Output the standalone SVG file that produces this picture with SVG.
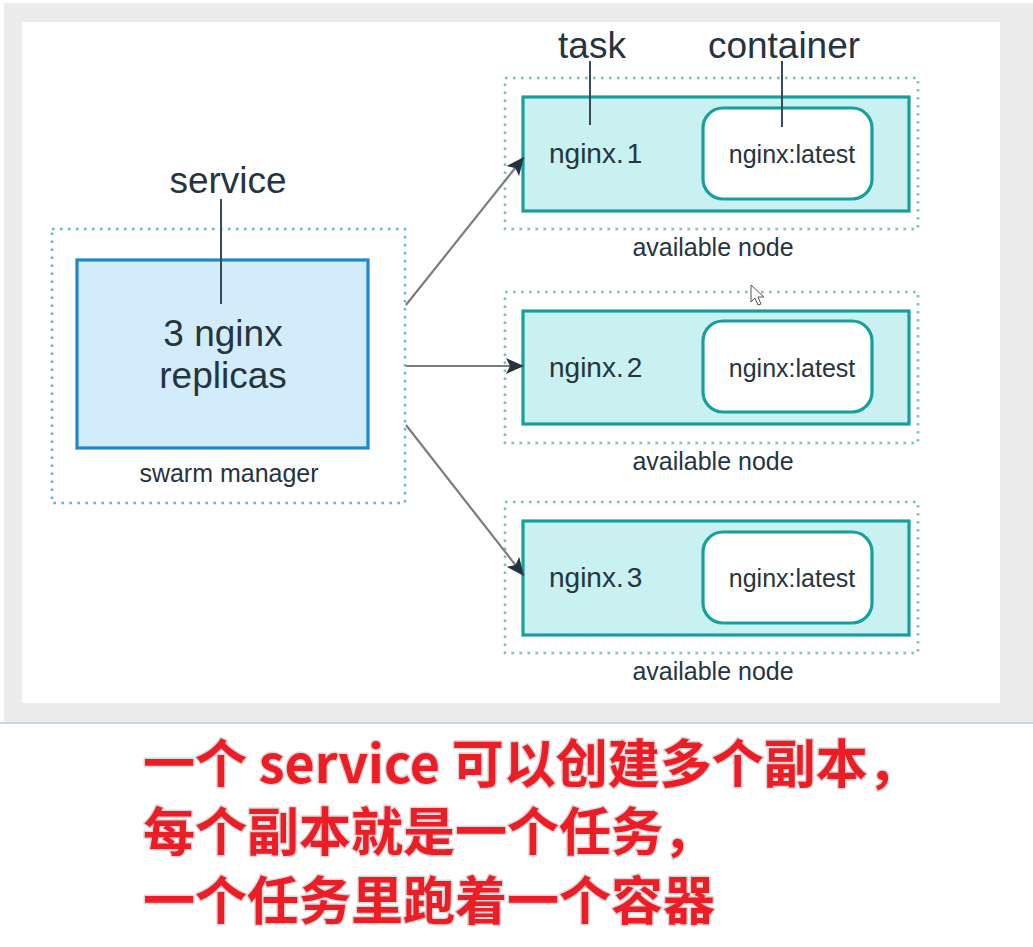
<svg xmlns="http://www.w3.org/2000/svg" width="1033" height="947" viewBox="0 0 1033 947">
<defs>
<style>
.lbl{font-family:"Liberation Sans",Arial,sans-serif;fill:#26343f}
.big{font-size:37px}
.mid{font-size:28px}
.sm{font-size:25px}
.dotb{fill:none;stroke:#6fb0d6;stroke-width:2.6;stroke-dasharray:2.6 5.4}
.dott{fill:none;stroke:#6fc4bb;stroke-width:2.6;stroke-dasharray:2.6 5.4}
.task{fill:#c9f1f2;stroke:#17a09b;stroke-width:3.2}
.cont{fill:#ffffff;stroke:#17a09b;stroke-width:3.2}
.pin{stroke:#3c4a55;stroke-width:2;fill:none}
.conn{stroke:#7c7c7c;stroke-width:2.2;fill:none;marker-end:url(#ah)}
.cap{font-family:"Noto Sans CJK SC","Noto Sans",sans-serif;font-weight:bold;font-size:52px;fill:#ee1c25;stroke:#d8d8d8;stroke-width:3;paint-order:stroke;stroke-linejoin:round}
</style>
<marker id="ah" markerUnits="userSpaceOnUse" markerWidth="20" markerHeight="18" refX="18" refY="8" orient="auto">
<path d="M0,0 L18,8 L0,16 L4,8 z" fill="#24343f"/>
</marker>
</defs>
<rect x="0" y="0" width="1033" height="947" fill="#ffffff"/>
<rect x="4" y="3" width="1029" height="719" fill="#ececec"/>
<rect x="22" y="22" width="978" height="681" fill="#ffffff"/>
<line x1="0" y1="723" x2="1033" y2="723" stroke="#a9c9ea" stroke-width="1.5"/>

<g id="swarm-manager">
<rect class="dotb" x="52" y="229" width="353" height="274"/>
<rect x="77" y="260" width="291" height="188" fill="#d3ecfb" stroke="#1e88c8" stroke-width="3.2"/>
<text class="lbl big" x="223" y="346" text-anchor="middle">3 nginx</text>
<text class="lbl big" x="223" y="388" text-anchor="middle">replicas</text>
<text class="lbl sm" x="229" y="482" text-anchor="middle">swarm manager</text>
</g>

<g id="service-label">
<text class="lbl big" x="228" y="193" text-anchor="middle">service</text>
<line class="pin" x1="221" y1="199" x2="221" y2="304"/>
</g>

<g id="node1">
<rect class="dott" x="505" y="78" width="413" height="151"/>
<rect class="task" x="523" y="97" width="386" height="114"/>
<rect class="cont" x="703" y="108" width="169" height="91" rx="20"/>
<text class="lbl mid" x="549" y="163">nginx.<tspan dx="3">1</tspan></text>
<text class="lbl sm" x="792" y="163" text-anchor="middle">nginx:latest</text>
<text class="lbl sm" x="713" y="256" text-anchor="middle">available node</text>
</g>

<g id="task-label">
<text class="lbl big" x="592" y="58" text-anchor="middle">task</text>
<line class="pin" x1="590" y1="61" x2="590" y2="125"/>
</g>
<g id="container-label">
<text class="lbl big" x="784" y="58" text-anchor="middle">container</text>
<line class="pin" x1="782" y1="61" x2="782" y2="127"/>
</g>

<g id="node2">
<rect class="dott" x="505" y="292" width="413" height="151"/>
<rect class="task" x="523" y="311" width="386" height="113"/>
<rect class="cont" x="703" y="321" width="169" height="91" rx="20"/>
<text class="lbl mid" x="549" y="377">nginx.<tspan dx="3">2</tspan></text>
<text class="lbl sm" x="792" y="377" text-anchor="middle">nginx:latest</text>
<text class="lbl sm" x="713" y="470" text-anchor="middle">available node</text>
</g>

<g id="node3">
<rect class="dott" x="505" y="502" width="413" height="151"/>
<rect class="task" x="523" y="521" width="386" height="114"/>
<rect class="cont" x="703" y="532" width="169" height="91" rx="20"/>
<text class="lbl mid" x="549" y="587">nginx.<tspan dx="3">3</tspan></text>
<text class="lbl sm" x="792" y="587" text-anchor="middle">nginx:latest</text>
<text class="lbl sm" x="713" y="680" text-anchor="middle">available node</text>
</g>

<g id="connectors">
<line class="conn" x1="406" y1="305" x2="524" y2="157"/>
<line class="conn" x1="406" y1="366" x2="524" y2="366"/>
<line class="conn" x1="406" y1="425" x2="524" y2="576"/>
</g>

<path d="M751,285 L751,302 L755,298 L758,305 L761,304 L758,297 L764,297 z" fill="#ffffff" stroke="#555" stroke-width="1"/>

<g id="caption">
<text class="cap" x="143" y="783">一个 service 可以创建多个副本，</text>
<text class="cap" x="143" y="851">每个副本就是一个任务，</text>
<text class="cap" x="143" y="920">一个任务里跑着一个容器</text>
</g>
</svg>
